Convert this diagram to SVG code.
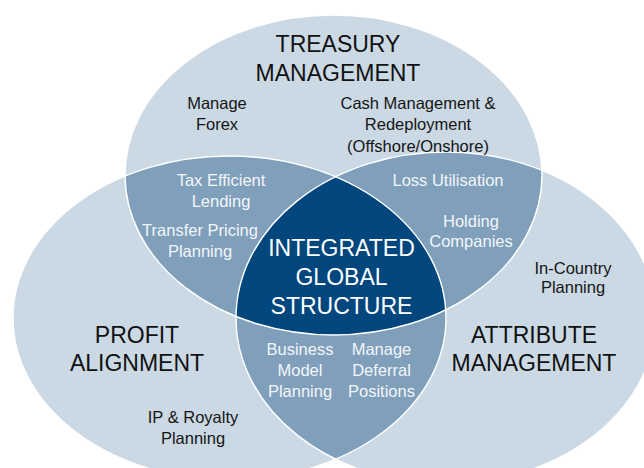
<svg xmlns="http://www.w3.org/2000/svg" xmlns:xlink="http://www.w3.org/1999/xlink" width="644" height="468" viewBox="0 0 644 468">
  <style>
    .light { fill: #cbd9e5; }
    .mid { fill: #7f9fbb; }
    .dark { fill: #01467d; }
    .edge { fill: none; stroke: #ffffff; stroke-width: 1.4; }
    text { font-family: "Liberation Sans", Arial, Helvetica, sans-serif; text-anchor: middle; }
    .title { font-size: 23px; fill: #111111; }
    .title-w { font-size: 23px; fill: #ffffff; }
    .item { font-size: 16.5px; fill: #151515; }
    .item-w { font-size: 16.5px; fill: #f3f6f9; }
  </style>
  <defs>
    <!-- the three overlapping ellipses -->
    <ellipse id="eT" cx="333.5" cy="175" rx="208.5" ry="160"/>
    <ellipse id="eL" cx="229.5" cy="318" rx="216.5" ry="162"/>
    <ellipse id="eR" cx="446" cy="318" rx="210" ry="166"/>
    <clipPath id="cT"><use xlink:href="#eT"/></clipPath>
    <clipPath id="cL"><use xlink:href="#eL"/></clipPath>
  </defs>

  <rect width="644" height="468" fill="#ffffff"/>

  <!-- single-set areas -->
  <g id="base">
    <use xlink:href="#eL" class="light"/>
    <use xlink:href="#eR" class="light"/>
    <use xlink:href="#eT" class="light"/>
  </g>

  <!-- pairwise overlaps -->
  <g id="overlaps">
    <g clip-path="url(#cT)">
      <use xlink:href="#eL" class="mid"/>
      <use xlink:href="#eR" class="mid"/>
    </g>
    <g clip-path="url(#cL)">
      <use xlink:href="#eR" class="mid"/>
    </g>
  </g>

  <!-- centre: all three sets -->
  <g id="core">
    <g clip-path="url(#cT)">
      <g clip-path="url(#cL)">
        <use xlink:href="#eR" class="dark"/>
      </g>
    </g>
  </g>

  <!-- white outlines -->
  <g id="outlines">
    <use xlink:href="#eL" class="edge"/>
    <use xlink:href="#eR" class="edge"/>
    <use xlink:href="#eT" class="edge"/>
  </g>

  <g id="treasury">
    <text class="title" x="338" y="52">TREASURY</text>
    <text class="title" x="338" y="81">MANAGEMENT</text>
    <text class="item" x="217" y="108.5">Manage</text>
    <text class="item" x="217" y="130">Forex</text>
    <text class="item" x="418" y="108.5">Cash Management &amp;</text>
    <text class="item" x="418" y="130">Redeployment</text>
    <text class="item" x="418" y="151.5">(Offshore/Onshore)</text>
  </g>

  <g id="treasury-profit">
    <text class="item-w" x="221" y="185.5">Tax Efficient</text>
    <text class="item-w" x="221" y="206.5">Lending</text>
    <text class="item-w" x="200" y="236">Transfer Pricing</text>
    <text class="item-w" x="200" y="256.5">Planning</text>
  </g>

  <g id="treasury-attribute">
    <text class="item-w" x="448" y="185.5">Loss Utilisation</text>
    <text class="item-w" x="471" y="227">Holding</text>
    <text class="item-w" x="471" y="247">Companies</text>
  </g>

  <g id="integrated">
    <text class="title-w" x="341.5" y="255.5">INTEGRATED</text>
    <text class="title-w" x="341.5" y="285">GLOBAL</text>
    <text class="title-w" x="341.5" y="313.5">STRUCTURE</text>
  </g>

  <g id="profit">
    <text class="title" x="137" y="342.5">PROFIT</text>
    <text class="title" x="137" y="371">ALIGNMENT</text>
    <text class="item" x="193" y="423">IP &amp; Royalty</text>
    <text class="item" x="193" y="444">Planning</text>
  </g>

  <g id="attribute">
    <text class="title" x="534" y="342.5">ATTRIBUTE</text>
    <text class="title" x="534" y="371">MANAGEMENT</text>
    <text class="item" x="573" y="273.5">In-Country</text>
    <text class="item" x="573" y="293">Planning</text>
  </g>

  <g id="profit-attribute">
    <text class="item-w" x="300" y="355">Business</text>
    <text class="item-w" x="300" y="376">Model</text>
    <text class="item-w" x="300" y="396.5">Planning</text>
    <text class="item-w" x="381.5" y="355">Manage</text>
    <text class="item-w" x="381.5" y="376">Deferral</text>
    <text class="item-w" x="381.5" y="396.5">Positions</text>
  </g>
</svg>
